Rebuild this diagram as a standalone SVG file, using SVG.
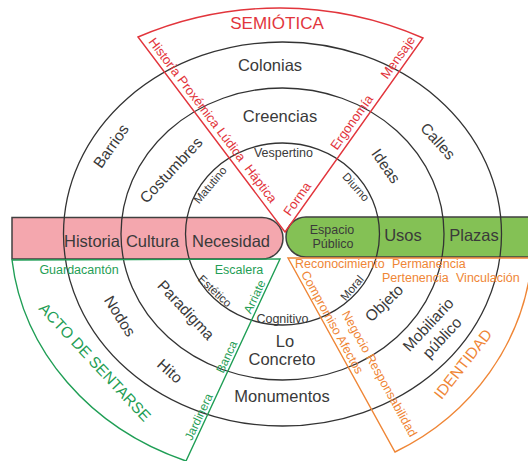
<svg xmlns="http://www.w3.org/2000/svg" width="528" height="461" viewBox="0 0 528 461">
<style>
text{font-family:"Liberation Sans",Arial,sans-serif;fill:#3a3a3a}
.c{text-anchor:middle}
.big{font-size:16.5px}
.rot{font-size:15.5px}
.sm{font-size:12.5px}
.xs{font-size:11.5px}
.edge{font-size:13px}
text.r{fill:#e2353c}
text.g{fill:#1f9e55}
text.o{fill:#ef8636}
.ring{fill:none;stroke:#333;stroke-width:1.3}
.bar{stroke:#404040;stroke-width:1.5}
.sec{fill:none;stroke-width:1.4;stroke-linejoin:miter}
</style>
<g id="bars">
  <path id="bar-pink" class="bar" fill="#f4a7ae" d="M12,217.5 H262 A21,20.75 0 0 1 262,259 H12 Z"/>
  <path id="bar-green" class="bar" fill="#84c155" d="M532,217 H306 A20,20 0 0 0 306,257 H532"/>
</g>
<g id="connectors">
  <ellipse class="ring" cx="282.5" cy="234" rx="219" ry="192"/>
  <ellipse class="ring" cx="282.5" cy="234" rx="161.5" ry="146"/>
  <ellipse class="ring" cx="282.5" cy="234" rx="97" ry="91"/>
  <path class="sec" stroke="#e2353c" d="M285,232 L138,37 A359,359 0 0 1 423,38 Z"/>
  <path class="sec" stroke="#1f9e55" d="M12,260 L280,259 L186,461 A273,243 0 0 1 12,260 Z"/>
  <path class="sec" stroke="#ef8636" d="M288,258 L532,258 A250,240 0 0 1 395,452 Z"/>
</g>
<g id="outer-ring">
  <text class="big c" x="270" y="71">Colonias</text>
  <text class="rot c" dy="0.35em" transform="translate(111,146) rotate(-55)">Barrios</text>
  <text class="rot c" dy="0.35em" transform="translate(438,141) rotate(48)">Calles</text>
  <text class="big c" x="282" y="401.5">Monumentos</text>
  <text class="rot c" dy="0.35em" transform="translate(120,316) rotate(58)">Nodos</text>
  <text class="rot c" dy="0.35em" transform="translate(170,371) rotate(42)">Hito</text>
  <g transform="translate(435,331) rotate(-47)">
    <text class="rot c" y="-4">Mobiliario</text>
    <text class="rot c" y="15">público</text>
  </g>
</g>
<g id="middle-ring">
  <text class="big c" x="280" y="122">Creencias</text>
  <text class="rot c" dy="0.35em" transform="translate(171,170) rotate(-47)">Costumbres</text>
  <text class="rot c" dy="0.35em" transform="translate(386,166) rotate(55)">Ideas</text>
  <text class="big c" x="285" y="346.5">Lo</text>
  <text class="big c" x="282" y="365">Concreto</text>
  <text class="rot c" dy="0.35em" transform="translate(186,310) rotate(47)">Paradigma</text>
  <text class="rot c" dy="0.35em" transform="translate(384,303) rotate(-44)">Objeto</text>
</g>
<g id="inner-ring">
  <text class="sm c" x="283.5" y="157">Vespertino</text>
  <text class="xs c" dy="0.35em" transform="translate(210,185) rotate(-50)">Matutino</text>
  <text class="xs c" dy="0.35em" transform="translate(356,187) rotate(48)">Diurno</text>
  <text class="xs c" dy="0.35em" transform="translate(215,291) rotate(43)">Estético</text>
  <text class="sm c" x="282.5" y="322.5">Cognitivo</text>
  <text class="xs c" dy="0.35em" transform="translate(352,288) rotate(-50)">Moral</text>
</g>
<g id="pink-bar-labels">
  <text class="big c" x="92" y="246.5">Historia</text>
  <text class="big c" x="152.5" y="246.5">Cultura</text>
  <text class="big c" x="231" y="246.5">Necesidad</text>
</g>
<g id="green-bar-labels">
  <text class="sm c" x="332" y="234">Espacio</text>
  <text class="sm c" x="333" y="248">Público</text>
  <text class="big c" x="403" y="241">Usos</text>
  <text class="big c" x="474" y="241">Plazas</text>
</g>
<g id="semiotica">
  <text class="r c" x="277" y="29" style="font-size:17px">SEMIÓTICA</text>
  <text class="r edge" transform="translate(148,42) rotate(52.9)">Historia Proxémica</text>
  <text class="r edge" transform="translate(216.2,132) rotate(52.9)">Lúdica</text>
  <text class="r edge" transform="translate(243.9,168.7) rotate(52.9)">Háptica</text>
  <text class="r edge" transform="translate(290,216.7) rotate(-54.6)">Forma</text>
  <text class="r edge" transform="translate(336.9,150.7) rotate(-54.6)">Ergonomía</text>
  <text class="r edge" transform="translate(387.3,79.8) rotate(-54.6)">Mensaje</text>
</g>
<g id="acto-de-sentarse">
  <text class="g sm c" x="79" y="274">Guardacantón</text>
  <text class="g sm c" x="239" y="274">Escalera</text>
  <text class="g c" style="font-size:15.5px" dy="0.35em" transform="translate(95,362) rotate(47)">ACTO DE SENTARSE</text>
  <text class="g c" style="font-size:12px" transform="translate(202.4,418.6) rotate(-65)">Jardinera</text>
  <text class="g c" style="font-size:12px" transform="translate(230.4,358.6) rotate(-65)">Banca</text>
  <text class="g c" style="font-size:12px" transform="translate(258.3,298.4) rotate(-65)">Arriate</text>
</g>
<g id="identidad">
  <text class="o sm" x="295" y="268">Reconocimiento</text>
  <text class="o sm" x="392" y="268">Permanencia</text>
  <text class="o sm" x="382" y="282">Pertenencia</text>
  <text class="o sm" x="456" y="282">Vinculación</text>
  <text class="o sm" transform="translate(300.7,273.8) rotate(61.1)">Compromiso Afectos</text>
  <text class="o sm" transform="translate(341.6,313.7) rotate(61.1)">Negocio Responsabilidad</text>
  <text class="o c" style="font-size:15.5px" dy="0.35em" transform="translate(463,364) rotate(-52)">IDENTIDAD</text>
</g>
</svg>
